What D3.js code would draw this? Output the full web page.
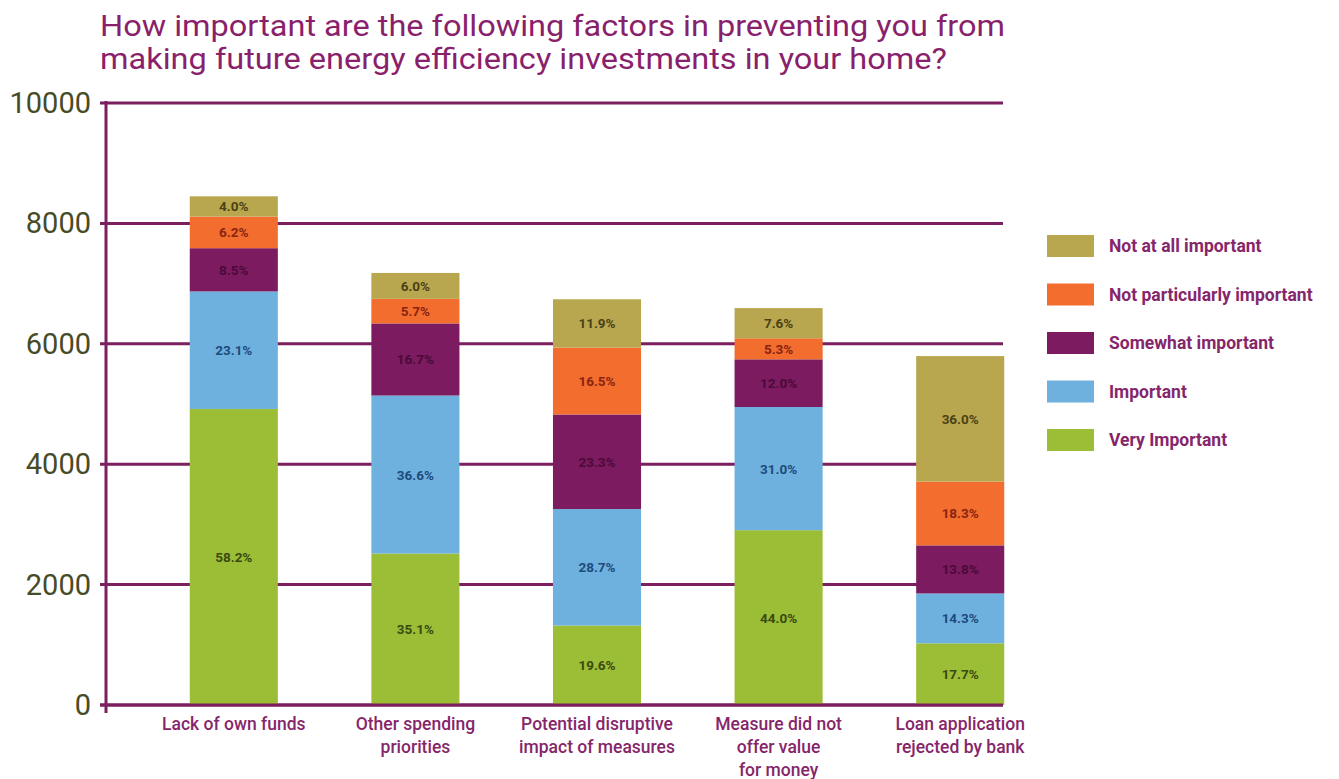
<!DOCTYPE html>
<html>
<head>
<meta charset="utf-8">
<script src="https://cdn.jsdelivr.net/npm/d3@7"></script>
<style>
  body { margin: 0; background: #fff; }
  svg { font-family: Roboto, "Open Sans", sans-serif; }
</style>
</head>
<body>
<svg width="1339" height="779"></svg>
<script>
// chart data
const categories = [
  ['Lack of own funds'],
  ['Other spending', 'priorities'],
  ['Potential disruptive', 'impact of measures'],
  ['Measure did not', 'offer value', 'for money'],
  ['Loan application', 'rejected by bank']
];
const totals = [8450, 7170, 6740, 6600, 5790];
const seriesNames = ['Very Important', 'Important', 'Somewhat important', 'Not particularly important', 'Not at all important'];
const veryImportant = [58.2, 35.1, 19.6, 44.0, 17.7];
const important = [23.1, 36.6, 28.7, 31.0, 14.3];
const somewhatImportant = [8.5, 16.7, 23.3, 12.0, 13.8];
const notParticularly = [6.2, 5.7, 16.5, 5.3, 18.3];
const notAtAll = [4.0, 6.0, 11.9, 7.6, 36.0];
const yTicks = [0, 2000, 4000, 6000, 8000, 10000];

const pctSeries = [veryImportant, important, somewhatImportant, notParticularly, notAtAll];
const fills = ['#9cbd36', '#6fb1de', '#7c1b5f', '#f26d2e', '#b9a74f'];
const labelColors = ['#3a4a10', '#1d4b7c', '#4a0a3a', '#8a2410', '#4a4216'];
const purple = '#7c1f5f';

const svg = d3.select('svg');

// one row per category, one column per series (counts from total * share)
const rows = categories.map((c, i) => {
  const r = { idx: i };
  seriesNames.forEach((s, j) => { r[s] = totals[i] * pctSeries[j][i] / 100; });
  return r;
});
const stacked = d3.stack().keys(seriesNames)(rows);

const x = d3.scaleBand().domain(d3.range(categories.length))
  .range([143, 1051]).paddingInner(0.515).paddingOuter(0.2575);
const y = d3.scaleLinear().domain([0, 10000]).range([705, 103]);

// title - stretched a bit to mimic the condensed original face
const title = svg.append('g').attr('fill', '#8a1f6c').attr('font-size', 30);
title.append('text').attr('x', 100).attr('y', 36)
  .attr('textLength', 905).attr('lengthAdjust', 'spacingAndGlyphs')
  .text('How important are the following factors in preventing you from');
title.append('text').attr('x', 100).attr('y', 69)
  .attr('textLength', 847).attr('lengthAdjust', 'spacingAndGlyphs')
  .text('making future energy efficiency investments in your home?');

// grid lines + tick labels
const grid = svg.append('g');
grid.selectAll('line').data(yTicks).join('line')
  .attr('x1', 100).attr('x2', 1003)
  .attr('y1', d => y(d)).attr('y2', d => y(d))
  .attr('stroke', purple).attr('stroke-width', 3);
grid.selectAll('text').data(yTicks).join('text')
  .attr('x', 91).attr('y', d => y(d) + 10)
  .attr('text-anchor', 'end')
  .attr('font-size', 29)
  .attr('fill', '#474b28')
  .text(d => d);

// vertical axis line
svg.append('line')
  .attr('x1', 106).attr('x2', 106)
  .attr('y1', y(10000) - 2).attr('y2', y(0) + 8)
  .attr('stroke', purple).attr('stroke-width', 3);

// bars
const layers = svg.append('g').selectAll('g').data(stacked).join('g')
  .attr('fill', (d, i) => fills[i]);
layers.selectAll('rect').data(d => d).join('rect')
  .attr('x', d => x(d.data.idx))
  .attr('width', x.bandwidth())
  .attr('y', d => y(d[1]))
  .attr('height', d => y(d[0]) - y(d[1]));

// percentage labels
svg.append('g').selectAll('g').data(stacked).join('g')
  .attr('fill', (d, i) => labelColors[i])
  .each(function (layer, j) {
    d3.select(this).selectAll('text').data(layer).join('text')
      .attr('x', d => x(d.data.idx) + x.bandwidth() / 2)
      .attr('y', d => (y(d[0]) + y(d[1])) / 2 + 5)
      .attr('text-anchor', 'middle')
      .attr('font-size', 13.5)
      .attr('font-weight', 'bold')
      .text(d => pctSeries[j][d.data.idx].toFixed(1) + '%');
  });

// baseline on top of bars
svg.append('line')
  .attr('x1', 100).attr('x2', 1003)
  .attr('y1', y(0)).attr('y2', y(0))
  .attr('stroke', purple).attr('stroke-width', 3);

// category labels
svg.append('g').selectAll('text').data(categories).join('text')
  .attr('text-anchor', 'middle')
  .attr('fill', '#86266a')
  .attr('font-size', 17.5)
  .attr('font-weight', 500)
  .attr('transform', (d, i) => `translate(${x(i) + x.bandwidth() / 2},730)`)
  .each(function (lines) {
    d3.select(this).selectAll('tspan').data(lines).join('tspan')
      .attr('x', 0).attr('dy', (d, k) => k === 0 ? 0 : 23)
      .text(d => d);
  });

// legend (top to bottom reverses the stack)
const legend = svg.append('g').attr('transform', 'translate(1047,235)');
const legendItems = seriesNames.map((s, i) => ({ name: s, fill: fills[i] })).reverse();
const item = legend.selectAll('g').data(legendItems).join('g')
  .attr('transform', (d, i) => `translate(0,${i * 48.5})`);
item.append('rect').attr('width', 47).attr('height', 22).attr('fill', d => d.fill);
item.append('text').attr('x', 62).attr('y', 17)
  .attr('fill', '#86266a').attr('font-size', 17.5).attr('font-weight', 'bold')
  .text(d => d.name);
</script>
</body>
</html>
